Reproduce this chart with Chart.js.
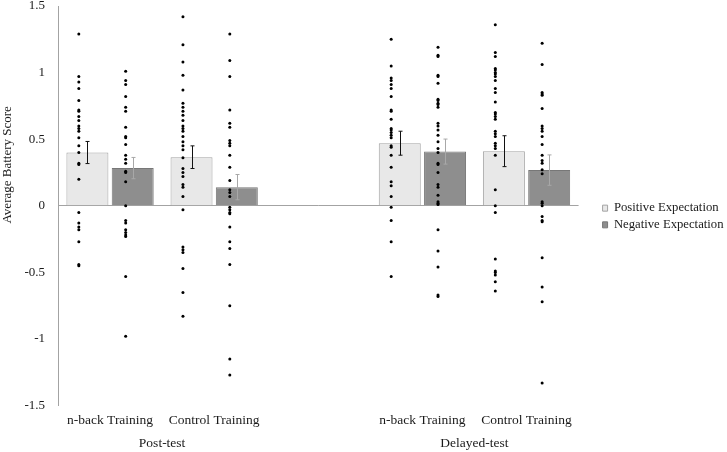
<!DOCTYPE html>
<html>
<head>
<meta charset="utf-8">
<script src="https://cdn.jsdelivr.net/npm/chart.js@4/dist/chart.umd.min.js"></script>
<style>
html,body{margin:0;padding:0;background:#fff;}
canvas{display:block;}
</style>
</head>
<body>
<canvas id="c" width="727" height="452"></canvas>
<script>
// ---- categories & labels ----
const categories = ['n-back Training', 'Control Training', '', 'n-back Training', 'Control Training'];
const groupLabels = ['Post-test', 'Delayed-test'];
const groupMembers = [[0, 1], [3, 4]];
const seriesNames = ['Positive Expectation', 'Negative Expectation'];
const yAxisTitle = 'Average Battery Score';
const yTickValues = [-1.5, -1, -0.5, 0, 0.5, 1, 1.5];
const yTickLabels = ['-1.5', '-1', '-0.5', '0', '0.5', '1', '1.5'];

// ---- bar means and standard errors (null = empty gap slot) ----
const positiveMeans = [0.40, 0.365, null, 0.47, 0.41];
const negativeMeans = [0.283, 0.14, null, 0.407, 0.268];
const positiveSE = [0.083, 0.085, null, 0.09, 0.116];
const negativeSE = [0.08, 0.095, null, 0.094, 0.114];

// ---- individual scores ----
const postNbackPositive = [1.29, 0.97, 0.93, 0.88, 0.79, 0.72, 0.71, 0.67, 0.64, 0.60, 0.58, 0.56, 0.51, 0.45, 0.40, 0.32, 0.31, 0.20, -0.05, -0.13, -0.16, -0.18, -0.27, -0.44, -0.45];
const postNbackNegative = [1.01, 0.94, 0.91, 0.82, 0.74, 0.71, 0.59, 0.52, 0.51, 0.46, 0.38, 0.35, 0.32, 0.26, 0.25, 0.18, 0.00, -0.11, -0.13, -0.18, -0.20, -0.22, -0.23, -0.53, -0.98];
const postControlPositive = [1.42, 1.21, 1.08, 0.98, 0.87, 0.77, 0.74, 0.71, 0.68, 0.64, 0.60, 0.58, 0.56, 0.52, 0.48, 0.45, 0.42, 0.36, 0.28, 0.25, 0.22, 0.16, 0.14, 0.07, -0.03, -0.31, -0.33, -0.35, -0.47, -0.65, -0.83];
const postControlNegative = [1.29, 1.09, 0.97, 0.72, 0.62, 0.59, 0.49, 0.47, 0.45, 0.38, 0.29, 0.19, 0.12, 0.10, 0.07, -0.01, -0.03, -0.05, -0.06, -0.16, -0.27, -0.32, -0.44, -0.75, -1.15, -1.27];
const delayedNbackPositive = [1.25, 1.05, 0.96, 0.94, 0.91, 0.88, 0.82, 0.72, 0.71, 0.65, 0.58, 0.57, 0.55, 0.53, 0.51, 0.45, 0.44, 0.38, 0.29, 0.18, 0.15, 0.07, -0.01, -0.11, -0.27, -0.53];
const delayedNbackNegative = [1.19, 1.13, 1.12, 0.98, 0.97, 0.92, 0.80, 0.79, 0.77, 0.76, 0.74, 0.62, 0.60, 0.57, 0.53, 0.48, 0.43, 0.40, 0.32, 0.31, 0.25, 0.16, 0.14, 0.08, 0.03, 0.02, 0.01, -0.18, -0.34, -0.46, -0.67, -0.68];
const delayedControlPositive = [1.36, 1.15, 1.12, 1.03, 1.02, 1.00, 0.99, 0.97, 0.94, 0.88, 0.85, 0.78, 0.70, 0.69, 0.67, 0.65, 0.56, 0.54, 0.52, 0.47, 0.45, 0.43, 0.38, 0.12, 0.00, -0.05, -0.40, -0.49, -0.50, -0.52, -0.57, -0.64];
const delayedControlNegative = [1.22, 1.06, 0.85, 0.84, 0.83, 0.73, 0.60, 0.58, 0.56, 0.52, 0.46, 0.38, 0.34, 0.32, 0.27, 0.24, 0.03, 0.02, 0.00, -0.08, -0.11, -0.12, -0.39, -0.61, -0.72, -1.33];

const positiveDots = [postNbackPositive, postControlPositive, null, delayedNbackPositive, delayedControlPositive];
const negativeDots = [postNbackNegative, postControlNegative, null, delayedNbackNegative, delayedControlNegative];

// ---- styling (not data) ----
const FONT = '"Liberation Serif", "Times New Roman", serif';
const TEXT = '#1a1a1a';
const LIGHT = '#e8e8e8', LIGHT_BORDER = '#a3a3a3';
const DARK = '#8e8e8e', DARK_BORDER = '#777777';
const DOT_OFFSET_POS = -0.30, DOT_OFFSET_NEG = 0.15;

Chart.defaults.font.family = FONT;
Chart.defaults.font.size = 13;
Chart.defaults.color = TEXT;

function barData(means) {
  return means.map((v, i) => ({x: i, y: v})).filter(d => d.y !== null);
}
function seData(means, se) {
  return means.map((v, i) => se[i]).filter((s, i) => means[i] !== null);
}
function dotData(groups, off) {
  const out = [];
  groups.forEach((arr, i) => { if (arr) arr.forEach(v => out.push({x: i + off, y: v})); });
  return out;
}
const slots = categories.map((c, i) => i).filter(i => c !== '');
const groupCenters = groupMembers.map(m => (m[0] + m[m.length - 1]) / 2);

const errorBars = {
  id: 'errorBars',
  afterDatasetsDraw(chart) {
    const ctx = chart.ctx, y = chart.scales.y;
    chart.data.datasets.forEach((ds, di) => {
      if (!ds.se) return;
      const meta = chart.getDatasetMeta(di);
      ctx.save();
      ctx.strokeStyle = ds.errColor;
      ctx.lineWidth = 1;
      meta.data.forEach((el, j) => {
        const v = ds.data[j].y, s = ds.se[j];
        const x = Math.round(el.x) + 0.5;
        const t = y.getPixelForValue(v + s), b = y.getPixelForValue(v - s);
        ctx.beginPath();
        ctx.moveTo(x, t); ctx.lineTo(x, b);
        ctx.moveTo(x - 2, t); ctx.lineTo(x + 2, t);
        ctx.moveTo(x - 2, b); ctx.lineTo(x + 2, b);
        ctx.stroke();
      });
      ctx.restore();
    });
  }
};

const yTitle = {
  id: 'yTitle',
  afterDraw(chart) {
    const ctx = chart.ctx, a = chart.chartArea;
    ctx.save();
    ctx.translate(8, a.top + a.height * 0.3975);
    ctx.rotate(-Math.PI / 2);
    ctx.textAlign = 'center';
    ctx.textBaseline = 'middle';
    ctx.font = '13px ' + FONT;
    ctx.fillStyle = TEXT;
    ctx.fillText(yAxisTitle, 0, 0);
    ctx.restore();
  }
};

const legendShift = {
  id: 'legendShift',
  afterLayout(chart) {
    const L = chart.legend;
    if (!L) return;
    const dx = chart.chartArea.right + 20 - L.left;
    L.left += dx; L.right += dx;
    L.top -= 12.5; L.bottom -= 12.5;
  }
};

new Chart(document.getElementById('c'), {
  type: 'bar',
  data: {
    datasets: [
      {
        type: 'bar', label: seriesNames[0], data: barData(positiveMeans),
        se: seData(positiveMeans, positiveSE), errColor: '#111111',
        backgroundColor: LIGHT, borderColor: LIGHT_BORDER, borderWidth: 1, order: 1
      },
      {
        type: 'bar', label: seriesNames[1], data: barData(negativeMeans),
        se: seData(negativeMeans, negativeSE), errColor: '#a8a8a8',
        backgroundColor: DARK, borderColor: DARK_BORDER, borderWidth: 1, order: 1
      },
      {
        type: 'scatter', label: 'pos-dots', data: dotData(positiveDots, DOT_OFFSET_POS),
        backgroundColor: '#000', borderColor: '#000', pointRadius: 1.5, borderWidth: 0, order: 0
      },
      {
        type: 'scatter', label: 'neg-dots', data: dotData(negativeDots, DOT_OFFSET_NEG),
        backgroundColor: '#000', borderColor: '#000', pointRadius: 1.5, borderWidth: 0, order: 0
      }
    ]
  },
  options: {
    responsive: false,
    animation: false,
    devicePixelRatio: 1,
    categoryPercentage: 0.87,
    barPercentage: 0.927,
    layout: {padding: {top: 6, right: 13.5, bottom: 0, left: 0}},
    plugins: {
      tooltip: {enabled: false},
      legend: {
        position: 'right',
        labels: {
          filter: item => item.datasetIndex < 2,
          boxWidth: 5, boxHeight: 6, padding: 4,
          font: {size: 12.7, family: FONT}, color: TEXT
        }
      }
    },
    scales: {
      x: {
        type: 'linear', min: -0.5, max: 4.5, offset: false, weight: 0,
        afterBuildTicks: s => { s.ticks = slots.map(v => ({value: v})); },
        ticks: {callback: v => categories[v], padding: 7, maxRotation: 0, autoSkip: false, color: TEXT, font: {size: 13.5}},
        grid: {display: false, drawTicks: false, offset: false},
        border: {display: false}
      },
      x2: {
        type: 'linear', position: 'bottom', min: -0.5, max: 4.5, offset: false, weight: 1,
        afterBuildTicks: s => { s.ticks = groupCenters.map(v => ({value: v})); },
        ticks: {callback: (v) => groupLabels[groupCenters.indexOf(v)], padding: 0, maxRotation: 0, autoSkip: false, color: TEXT, font: {size: 13.5}},
        grid: {display: false, drawTicks: false},
        border: {display: false}
      },
      y: {
        min: -1.5, max: 1.5,
        afterBuildTicks: s => { s.ticks = yTickValues.map(v => ({value: v})); },
        afterFit: s => { s.width = 58; s.paddingTop = 0; s.paddingBottom = 0; },
        ticks: {callback: v => yTickLabels[yTickValues.indexOf(v)], padding: 13, color: TEXT},
        grid: {
          drawTicks: false,
          color: c => (c.tick && c.tick.value === 0) ? '#a3a3a3' : 'rgba(0,0,0,0)',
          lineWidth: 1
        },
        border: {display: true, color: '#a3a3a3'}
      }
    }
  },
  plugins: [errorBars, yTitle, legendShift]
});
</script>
</body>
</html>
